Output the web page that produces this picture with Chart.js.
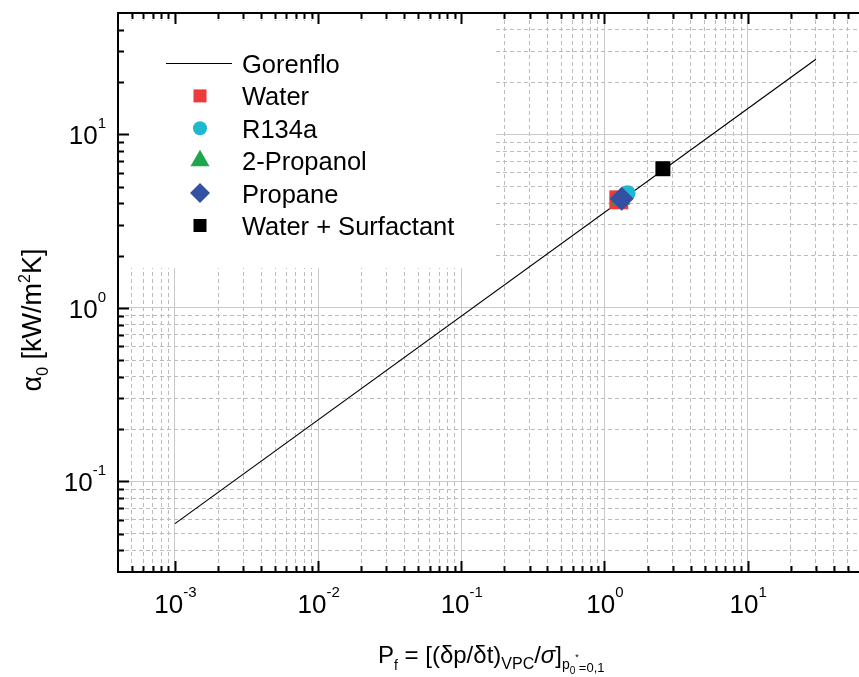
<!DOCTYPE html>
<html>
<head>
<meta charset="utf-8">
<title>Pool boiling: alpha0 vs Pf</title>
<script src="https://cdn.jsdelivr.net/npm/chart.js@4/dist/chart.umd.min.js"></script>
<style>
  html, body { margin: 0; padding: 0; background: #fff; }
  canvas { display: block; }
</style>
</head>
<body>
<canvas id="chart" width="859" height="677"></canvas>
<script>
// Gorenflo correlation (end points of the power law)
const gorenfloX = [0.001, 30];
const gorenfloY = [0.057, 27.1];

// Measured heat transfer coefficients (Pf, alpha0)
const waterX = [1.26];
const waterY = [4.19];
const r134aX = [1.45];
const r134aY = [4.57];
const propanolX = [1.30];
const propanolY = [4.22];
const propaneX = [1.32];
const propaneY = [4.25];
const surfactantX = [2.56];
const surfactantY = [6.33];

const seriesLabels = ['Gorenflo', 'Water', 'R134a', '2-Propanol', 'Propane', 'Water + Surfactant'];

// axis ranges and labelled decades
const xRange = [4e-4, 60];
const yRange = [0.03, 50];
const xDecades = [-3, -2, -1, 0, 1];
const yDecades = [-1, 0, 1];

const FONT = '"Liberation Sans", Arial, sans-serif';

const colors = {
    water: '#ee3a3a',
    r134a: '#1fb8d2',
    propanol: '#1ea64e',
    propane: '#3350a2',
    surfactant: '#000000',
    gridMajor: '#c8c8c8',
    gridMinor: '#bcbcbc'
};

function pts(xs, ys) {
    return xs.map((x, i) => ({ x: x, y: ys[i] }));
}

// 1..9 x 10^n ticks inside the axis range
function logTicks(min, max) {
    const ticks = [];
    for (let e = Math.floor(Math.log10(min)); e <= Math.ceil(Math.log10(max)); e++) {
        for (let m = 1; m <= 9; m++) {
            const v = m * Math.pow(10, e);
            if (v > min * 1.0001 && v < max * 0.9999) ticks.push({ value: v, major: m === 1 });
        }
    }
    return ticks;
}

function isMajor(ctx) {
    return !!(ctx.tick && ctx.tick.major);
}

// draw a list of text runs: [text, size, dy, italic]
function drawRuns(ctx, runs, x, y) {
    runs.forEach(r => {
        ctx.font = (r[3] ? 'italic ' : '') + r[1] + 'px ' + FONT;
        ctx.fillText(r[0], x, y + r[2]);
        x += ctx.measureText(r[0]).width;
    });
}

function runsWidth(ctx, runs) {
    let w = 0;
    runs.forEach(r => {
        ctx.font = (r[3] ? 'italic ' : '') + r[1] + 'px ' + FONT;
        w += ctx.measureText(r[0]).width;
    });
    return w;
}

function powRuns(exp) {
    return [['10', 26, 0], [String(exp), 15, -16]];
}

// legend marker sizes
const legendRadius = [0, 9.2, 7, 11, 10, 9.2];

const framePlugin = {
    id: 'frame',
    beforeDatasetsDraw(chart) {
        const { ctx, chartArea: a } = chart;
        ctx.save();
        // legend box hides the grid behind it
        ctx.fillStyle = '#fff';
        ctx.fillRect(a.left, 21, 496 - a.left, 268 - 21);

        ctx.textBaseline = 'alphabetic';
        chart.data.datasets.forEach((ds, i) => {
            const base = 73 + i * 32.4;
            const cy = base - 9.5;
            if (i === 0) {
                ctx.strokeStyle = ds.borderColor;
                ctx.lineWidth = 1.2;
                ctx.beginPath();
                ctx.moveTo(166, cy);
                ctx.lineTo(232, cy);
                ctx.stroke();
            } else {
                ctx.fillStyle = ds.pointBackgroundColor;
                Chart.helpers.drawPoint(ctx, {
                    pointStyle: ds.pointStyle,
                    radius: legendRadius[i],
                    rotation: 0,
                    borderWidth: 0
                }, 200, cy);
            }
            ctx.fillStyle = '#000';
            ctx.font = '25.5px ' + FONT;
            ctx.fillText(ds.label, 242, base);
        });
        ctx.restore();
    },
    afterDraw(chart) {
        const { ctx, chartArea: a, scales } = chart;
        const xs = scales.x;
        const ys = scales.y;
        ctx.save();

        // frame
        ctx.strokeStyle = '#000';
        ctx.lineWidth = 2;
        ctx.beginPath();
        ctx.moveTo(a.right + 2, a.top);
        ctx.lineTo(a.left, a.top);
        ctx.lineTo(a.left, a.bottom);
        ctx.lineTo(a.right + 2, a.bottom);
        ctx.stroke();

        // inward ticks
        ctx.beginPath();
        xs.ticks.forEach(t => {
            const px = Math.round(xs.getPixelForValue(t.value)) + 0.5;
            const len = t.major ? 11 : 6;
            ctx.moveTo(px, a.bottom);
            ctx.lineTo(px, a.bottom - len);
            ctx.moveTo(px, a.top);
            ctx.lineTo(px, a.top + len);
        });
        ys.ticks.forEach(t => {
            const py = Math.round(ys.getPixelForValue(t.value)) + 0.5;
            const len = t.major ? 11 : 6;
            ctx.moveTo(a.left, py);
            ctx.lineTo(a.left + len, py);
        });
        ctx.stroke();

        // tick labels 10^n
        ctx.fillStyle = '#000';
        ctx.textAlign = 'left';
        ctx.textBaseline = 'alphabetic';
        xDecades.forEach(e => {
            const runs = powRuns(e);
            const px = xs.getPixelForValue(Math.pow(10, e));
            const w = runsWidth(ctx, runs);
            drawRuns(ctx, runs, px - w / 2 + 0.5, a.bottom + 41);
        });
        yDecades.forEach(e => {
            const runs = powRuns(e);
            const py = ys.getPixelForValue(Math.pow(10, e));
            const w = runsWidth(ctx, runs);
            drawRuns(ctx, runs, a.left - 12 - w, py + 10);
        });

        // x axis title
        const xTitle = [
            ['P', 24, 0], ['f', 14, 7], [' = [(\u03B4p/\u03B4t)', 24, 0], ['VPC', 16, 6],
            ['/', 24, 0], ['\u03C3', 24, 0, true], [']', 24, 0], ['p', 14, 6],
            ['0', 10, 11], ['*', 9, -3], ['=0,1', 13, 9]
        ];
        drawRuns(ctx, xTitle, 378, 663);

        // y axis title (rotated)
        const yTitle = [
            ['\u03B1', 27, 0], ['0', 16, 7], [' [kW/m', 27, 0], ['2', 16, -11], ['K]', 27, 0]
        ];
        const yw = runsWidth(ctx, yTitle);
        ctx.translate(41, 320 + yw / 2);
        ctx.rotate(-Math.PI / 2);
        drawRuns(ctx, yTitle, 0, 0);

        ctx.restore();
    }
};

function logAxis(range, fitSide, fitSize) {
    return {
        type: 'logarithmic',
        min: range[0],
        max: range[1],
        afterBuildTicks: s => { s.ticks = logTicks(s.min, s.max); },
        afterFit: s => { s[fitSide] = fitSize; },
        ticks: { display: false, autoSkip: false },
        grid: {
            drawTicks: false,
            lineWidth: 1,
            color: ctx => isMajor(ctx) ? colors.gridMajor : colors.gridMinor
        },
        border: {
            display: false,
            dash: ctx => isMajor(ctx) ? [] : [4, 3]
        }
    };
}

new Chart(document.getElementById('chart'), {
    type: 'scatter',
    data: {
        datasets: [
            {
                label: seriesLabels[0],
                data: pts(gorenfloX, gorenfloY),
                showLine: true,
                borderColor: '#000',
                borderWidth: 1.2,
                pointRadius: 0,
                order: 6
            },
            {
                label: seriesLabels[1],
                data: pts(waterX, waterY),
                pointStyle: 'rect',
                pointRadius: 13.4,
                pointBackgroundColor: colors.water,
                pointBorderWidth: 0,
                order: 5
            },
            {
                label: seriesLabels[2],
                data: pts(r134aX, r134aY),
                pointStyle: 'circle',
                pointRadius: 8,
                pointBackgroundColor: colors.r134a,
                pointBorderWidth: 0,
                order: 4
            },
            {
                label: seriesLabels[3],
                data: pts(propanolX, propanolY),
                pointStyle: 'triangle',
                pointRadius: 11,
                pointBackgroundColor: colors.propanol,
                pointBorderWidth: 0,
                order: 3
            },
            {
                label: seriesLabels[4],
                data: pts(propaneX, propaneY),
                pointStyle: 'rectRot',
                pointRadius: 12,
                pointBackgroundColor: colors.propane,
                pointBorderWidth: 0,
                order: 2
            },
            {
                label: seriesLabels[5],
                data: pts(surfactantX, surfactantY),
                pointStyle: 'rect',
                pointRadius: 10.6,
                pointBackgroundColor: colors.surfactant,
                pointBorderWidth: 0,
                order: 1
            }
        ]
    },
    options: {
        responsive: false,
        animation: false,
        events: [],
        layout: { autoPadding: false, padding: { top: 13, right: 0, bottom: 0, left: 0 } },
        plugins: {
            legend: { display: false },
            tooltip: { enabled: false }
        },
        scales: {
            x: logAxis(xRange, 'height', 105),
            y: logAxis(yRange, 'width', 118)
        }
    },
    plugins: [framePlugin]
});
</script>
</body>
</html>
